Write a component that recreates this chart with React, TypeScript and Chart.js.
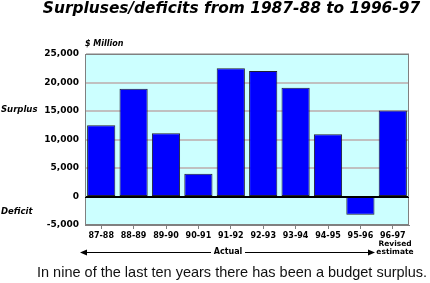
import React, { useEffect, useRef } from "react";
import { Chart, registerables } from "chart.js";

Chart.register(...registerables);

const categories = ["87-88", "88-89", "89-90", "90-91", "91-92", "92-93", "93-94", "94-95", "95-96", "96-97"];
const balances = [12500, 18900, 11100, 4000, 22500, 22000, 19100, 10900, -3200, 15100];
const yTickValues = [-5000, 0, 5000, 10000, 15000, 20000, 25000];

const FONT = "'DejaVu Sans', sans-serif";

const plotBackground = {
  id: "plotBackground",
  beforeDraw(chart: any) {
    const { ctx, chartArea } = chart;
    if (!chartArea) return;
    ctx.save();
    ctx.fillStyle = "#ccffff";
    ctx.fillRect(chartArea.left, chartArea.top, chartArea.right - chartArea.left, chartArea.bottom - chartArea.top);
    ctx.restore();
  },
};

const plotFrame = {
  id: "plotFrame",
  afterDatasetsDraw(chart: any) {
    const { ctx, chartArea } = chart;
    if (!chartArea) return;
    ctx.save();
    ctx.strokeStyle = "#808080";
    ctx.lineWidth = 1;
    ctx.strokeRect(chartArea.left + 0.5, chartArea.top + 0.5, chartArea.right - chartArea.left - 1, chartArea.bottom - chartArea.top - 1);
    const y0 = chart.scales.y.getPixelForValue(0);
    ctx.strokeStyle = "#000";
    ctx.beginPath();
    ctx.moveTo(chartArea.left, Math.round(y0) + 0.5);
    ctx.lineTo(chartArea.right, Math.round(y0) + 0.5);
    ctx.stroke();
    ctx.restore();
  },
};

export default function App() {
  const canvasRef = useRef<HTMLCanvasElement | null>(null);

  useEffect(() => {
    document.body.style.margin = "0";
    const canvas = canvasRef.current;
    if (!canvas) return;
    const chart = new Chart(canvas, {
      type: "bar",
      data: {
        labels: categories,
        datasets: [
          {
            data: balances,
            backgroundColor: "#0000ff",
            borderColor: "#202030",
            borderWidth: 1,
            borderSkipped: false,
            categoryPercentage: 0.87,
            barPercentage: 1,
          },
        ],
      },
      options: {
        animation: false,
        responsive: false,
        maintainAspectRatio: false,
        devicePixelRatio: 1,
        layout: { padding: { top: 54, right: 21, bottom: 0, left: 0 } },
        plugins: { legend: { display: false }, tooltip: { enabled: false }, title: { display: false } },
        scales: {
          x: {
            grid: { offset: false, drawOnChartArea: false, drawTicks: true, tickLength: 4, color: "#808080" },
            border: { display: true, color: "#808080" },
            ticks: { font: { family: FONT, size: 8, weight: "bold" }, color: "#000", padding: 2, maxRotation: 0, autoSkip: false },
            afterFit: (s: any) => {
              s.height = 58;
            },
          },
          y: {
            min: -5000,
            max: 25000,
            afterBuildTicks: (s: any) => {
              s.ticks = yTickValues.map((v) => ({ value: v }));
            },
            ticks: {
              callback: (v: any) => Number(v).toLocaleString("en-US"),
              font: { family: FONT, size: 9, weight: "bold" },
              color: "#000",
              padding: 6,
            },
            grid: {
              color: (c: any) => (c.tick && c.tick.value === 0 ? "#000" : "#c0c0c0"),
              lineWidth: (c: any) => (c.tick && c.tick.value === 0 ? 1 : 2),
              drawTicks: false,
            },
            border: { display: true, color: "#808080" },
            afterFit: (s: any) => {
              s.width = 85;
            },
          },
        },
      },
      plugins: [plotBackground, plotFrame],
    });
    return () => chart.destroy();
  }, []);

  const small: React.CSSProperties = { position: "absolute", fontFamily: FONT, fontWeight: "bold", fontSize: 8, lineHeight: "8px", color: "#000", whiteSpace: "nowrap" };

  return (
    <div style={{ position: "relative", width: 430, height: 283, background: "#fff", overflow: "hidden" }}>
      <canvas ref={canvasRef} width={430} height={283} style={{ position: "absolute", left: 0, top: 0, width: 430, height: 283 }} />
      <div style={{ position: "absolute", left: 0, width: 463, top: 1, textAlign: "center", fontFamily: FONT, fontWeight: "bold", fontStyle: "italic", fontSize: 15.4, lineHeight: "15px", color: "#000", whiteSpace: "nowrap" }}>
        Surpluses/deficits from 1987-88 to 1996-97
      </div>
      <div style={{ ...small, left: 85, top: 40, fontStyle: "italic" }}>$ Million</div>
      <div style={{ ...small, left: 1, top: 105, fontStyle: "italic", fontSize: 8.5 }}>Surplus</div>
      <div style={{ ...small, left: 1, top: 207, fontStyle: "italic", fontSize: 8.5 }}>Deficit</div>
      <div style={{ ...small, left: 360, width: 70, top: 240, textAlign: "center", fontSize: 7.5 }}>Revised</div>
      <div style={{ ...small, left: 360, width: 70, top: 248, textAlign: "center", fontSize: 7.5 }}>estimate</div>
      <div style={{ ...small, left: 178, width: 100, top: 248, textAlign: "center" }}>Actual</div>
      <svg width={430} height={283} style={{ position: "absolute", left: 0, top: 0 }}>
        <line x1={84} y1={252.5} x2={211} y2={252.5} stroke="#000" strokeWidth={1} />
        <line x1={245} y1={252.5} x2={370} y2={252.5} stroke="#000" strokeWidth={1} />
        <polygon points="80,252.5 87,249.5 87,255.5" fill="#000" />
        <polygon points="375,252.5 368,249.5 368,255.5" fill="#000" />
      </svg>
      <div style={{ position: "absolute", left: 37, top: 265, fontFamily: "'Liberation Sans', sans-serif", fontSize: 14.5, lineHeight: "14.5px", color: "#111", whiteSpace: "nowrap" }}>
        In nine of the last ten years there has been a budget surplus.
      </div>
    </div>
  );
}
